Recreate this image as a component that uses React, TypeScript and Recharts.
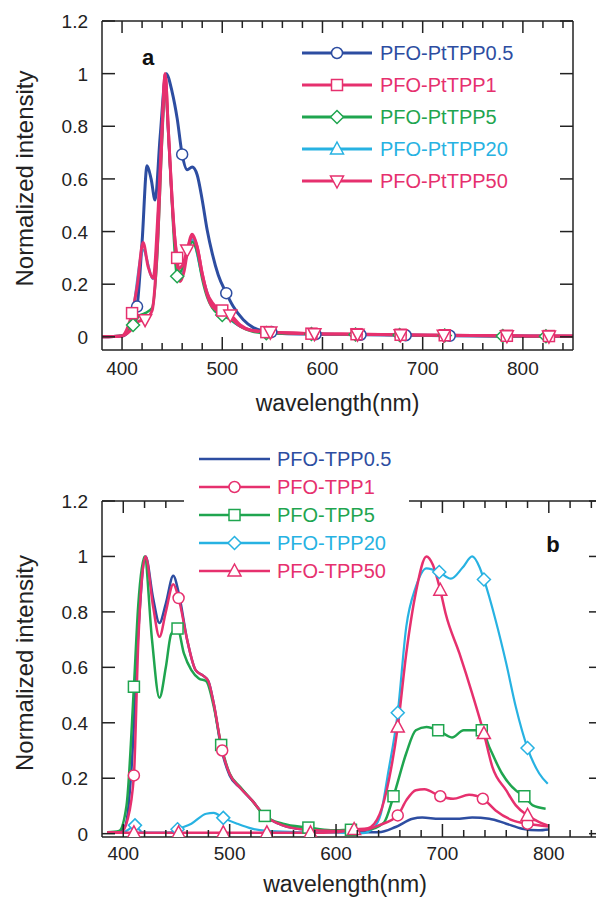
import React from 'react';
import { LineChart, Line, XAxis, YAxis } from 'recharts';

// ---------- panel a : PFO-PtTPP blends ----------
const aPt05Wl = [380, 400, 408, 415, 420, 425, 429, 433, 438, 444, 450, 455, 460, 465, 470, 475, 480, 485, 490, 496, 504, 511, 521, 531, 541, 549, 560, 593, 638, 683, 727, 780, 850];
const aPt05 = [0, 0.003, 0.03, 0.115, 0.36, 0.65, 0.6, 0.52, 0.76, 1.0, 0.93, 0.83, 0.693, 0.635, 0.645, 0.615, 0.52, 0.405, 0.317, 0.235, 0.166, 0.115, 0.065, 0.035, 0.022, 0.018, 0.013, 0.01, 0.008, 0.006, 0.004, 0.002, 0.001];
const aPt05Marks = [415, 460, 504, 549, 593, 638, 683, 727];

const aPt1Wl = [380, 400, 405, 410, 415, 421, 426, 431, 436, 440, 443, 446, 449, 452, 455, 458, 462, 466, 470, 475, 480, 485, 490, 495, 500, 508, 518, 528, 544, 589, 634, 678, 722, 784, 826, 850];
const aPt1 = [0, 0.003, 0.03, 0.09, 0.19, 0.358, 0.267, 0.223, 0.48, 0.8, 1.0, 0.8, 0.58, 0.4, 0.3, 0.21, 0.25, 0.343, 0.39, 0.343, 0.24, 0.166, 0.13, 0.11, 0.1, 0.075, 0.04, 0.025, 0.018, 0.012, 0.01, 0.008, 0.006, 0.004, 0.003, 0.003];
const aPt1Marks = [410, 455, 500, 544, 589, 634, 678, 722, 784, 826];

const aPt5Wl = [380, 400, 405, 411, 417, 423, 430, 435, 440, 443, 447, 451, 455, 460, 465, 470, 475, 480, 485, 490, 495, 500, 510, 520, 530, 544, 589, 633, 677, 722, 780, 823, 850];
const aPt5 = [0, 0.005, 0.02, 0.045, 0.08, 0.09, 0.11, 0.3, 0.75, 0.95, 0.72, 0.42, 0.23, 0.26, 0.32, 0.36, 0.32, 0.22, 0.15, 0.11, 0.09, 0.083, 0.06, 0.035, 0.02, 0.014, 0.011, 0.009, 0.007, 0.005, 0.003, 0.002, 0.002];
const aPt5Marks = [411, 455, 500, 544, 589, 633, 677, 722, 780, 823];

// PtTPP20 is hidden under the pink curves in the figure
const aPt20Wl = [380, 400, 410, 421, 431, 440, 443, 446, 452, 458, 466, 470, 480, 490, 500, 518, 544, 600, 700, 850];
const aPt20 = [0, 0.003, 0.08, 0.33, 0.22, 0.78, 0.98, 0.78, 0.4, 0.22, 0.33, 0.37, 0.23, 0.12, 0.09, 0.04, 0.017, 0.011, 0.007, 0.003];

const aPt50Wl = [380, 400, 410, 417, 423, 430, 436, 440, 443, 446, 450, 453, 456, 460, 465, 470, 475, 480, 485, 490, 500, 508, 518, 528, 548, 592, 635, 678, 721, 784, 826, 850];
const aPt50 = [0, 0.003, 0.03, 0.06, 0.065, 0.1, 0.4, 0.78, 1.0, 0.8, 0.52, 0.36, 0.26, 0.27, 0.33, 0.38, 0.34, 0.24, 0.16, 0.115, 0.092, 0.083, 0.045, 0.026, 0.018, 0.012, 0.01, 0.008, 0.006, 0.004, 0.003, 0.003];
const aPt50Marks = [423, 465, 508, 548, 592, 635, 678, 721, 784, 826];

// ---------- panel b : PFO-TPP blends ----------
const bT05Wl = [385, 395, 402, 408, 414, 421, 428, 434, 440, 447, 452, 460, 468, 475, 480, 485, 492, 500, 510, 521, 533, 550, 570, 600, 625, 640, 656, 672, 681, 697, 713, 728, 744, 760, 775, 790, 800];
const bT05 = [0.005, 0.005, 0.03, 0.25, 0.72, 1.0, 0.85, 0.76, 0.83, 0.93, 0.87, 0.7, 0.59, 0.57, 0.55, 0.47, 0.31, 0.21, 0.165, 0.12, 0.065, 0.03, 0.015, 0.008, 0.005, 0.005, 0.024, 0.054, 0.058, 0.054, 0.054, 0.058, 0.054, 0.036, 0.018, 0.012, 0.015];

const bT1Wl = [385, 398, 404, 410, 414, 421, 428, 434, 440, 447, 452, 460, 468, 475, 480, 485, 493, 500, 510, 521, 533, 550, 570, 600, 625, 640, 658, 666, 675, 683, 698, 710, 725, 738, 750, 766, 780, 800];
const bT1 = [0.005, 0.005, 0.05, 0.21, 0.68, 1.0, 0.82, 0.71, 0.8, 0.9, 0.85, 0.7, 0.59, 0.57, 0.55, 0.47, 0.3, 0.215, 0.165, 0.12, 0.065, 0.03, 0.015, 0.01, 0.012, 0.03, 0.066, 0.12, 0.157, 0.16, 0.135, 0.126, 0.14, 0.126, 0.084, 0.048, 0.036, 0.026];
const bT1Marks = [410, 452, 493, 658, 698, 738, 780];

const bT5Wl = [385, 396, 403, 410, 414, 420, 427, 434, 440, 445, 451, 457, 464, 471, 478, 485, 492, 500, 510, 521, 533, 550, 574, 595, 614, 630, 645, 654, 666, 675, 685, 696, 709, 720, 737, 744, 756, 769, 777, 785, 797];
const bT5 = [0.005, 0.01, 0.1, 0.53, 0.82, 1.0, 0.7, 0.49, 0.6, 0.72, 0.74, 0.65, 0.59, 0.56, 0.55, 0.46, 0.32, 0.217, 0.168, 0.12, 0.064, 0.036, 0.022, 0.012, 0.014, 0.015, 0.04, 0.135, 0.29, 0.373, 0.385, 0.373, 0.347, 0.373, 0.373, 0.313, 0.217, 0.156, 0.135, 0.102, 0.09];
const bT5Marks = [410, 451, 492, 533, 574, 614, 654, 696, 737, 777];

const bT20Wl = [385, 400, 405, 411, 418, 430, 445, 451, 464, 478, 485, 494, 507, 521, 535, 560, 600, 625, 635, 642, 649, 658, 666, 675, 685, 697, 708, 719, 728, 735, 739, 750, 760, 769, 780, 791, 799];
const bT20 = [0.003, 0.005, 0.015, 0.03, 0.005, 0.004, 0.005, 0.016, 0.036, 0.072, 0.075, 0.057, 0.036, 0.018, 0.01, 0.006, 0.004, 0.002, 0.02, 0.07, 0.22, 0.436, 0.746, 0.89, 0.957, 0.944, 0.92, 0.96, 1.0, 0.96, 0.917, 0.77, 0.614, 0.457, 0.309, 0.217, 0.18];
const bT20Marks = [411, 451, 494, 658, 697, 739, 780];

const bT50Wl = [385, 410, 452, 494, 535, 576, 600, 617, 630, 641, 650, 658, 666, 675, 685, 691, 698, 703, 716, 728, 739, 747, 760, 769, 780, 791, 799];
const bT50 = [0.003, 0.003, 0.003, 0.003, 0.003, 0.003, 0.005, 0.015, 0.02, 0.07, 0.2, 0.385, 0.65, 0.87, 1.0, 0.97, 0.878, 0.794, 0.65, 0.505, 0.361, 0.24, 0.156, 0.102, 0.066, 0.042, 0.03];
const bT50Marks = [410, 452, 494, 535, 576, 617, 658, 698, 739, 780];

const xTicks = [400, 420, 440, 460, 480, 500, 520, 540, 560, 580, 600, 620, 640, 660, 680, 700, 720, 740, 760, 780, 800, 820, 840];
const yTicks = [0, 0.2, 0.4, 0.6, 0.8, 1, 1.2];

const BLUE = '#2d4da1';
const PINK = '#e6306e';
const GREEN = '#1fa54f';
const CYAN = '#27b2e2';
const AXIS = '#222';
const FONT = '"Liberation Sans", Arial, Helvetica, sans-serif';

const pts = (wl: number[], v: number[]) => wl.map((w, i) => ({ wl: w, v: v[i] }));

type Shape = 'circle' | 'square' | 'diamond' | 'up' | 'down';

const Marker = ({ shape, x, y, color }: { shape: Shape; x: number; y: number; color: string }) => {
  const common = { fill: '#fff', stroke: color, strokeWidth: 1.5 };
  if (shape === 'circle') return <circle cx={x} cy={y} r={5.5} {...common} />;
  if (shape === 'square') return <rect x={x - 5.5} y={y - 5.5} width={11} height={11} {...common} />;
  if (shape === 'diamond')
    return <polygon points={`${x},${y - 6.5} ${x + 6.5},${y} ${x},${y + 6.5} ${x - 6.5},${y}`} {...common} />;
  if (shape === 'up')
    return <polygon points={`${x},${y - 7} ${x + 6.5},${y + 5} ${x - 6.5},${y + 5}`} {...common} />;
  return <polygon points={`${x},${y + 7} ${x + 6.5},${y - 5} ${x - 6.5},${y - 5}`} {...common} />;
};

const makeDot = (shape: Shape, color: string, marks: number[]) => (p: any) => {
  const { cx, cy, payload, index } = p;
  if (cx == null || cy == null || !marks.includes(payload.wl)) return <g key={index} />;
  return <Marker key={index} shape={shape} x={cx} y={cy} color={color} />;
};

// ticks point inward, labels sit outside
const BottomTick = (p: any) => {
  const { x, y, payload, labelDy } = p;
  const major = payload.value % 100 === 0;
  return (
    <g>
      <line x1={x} x2={x} y1={y} y2={y - (major ? 13 : 7)} stroke={AXIS} strokeWidth={1.5} />
      {major && (
        <text x={x} y={y + labelDy} textAnchor="middle" fontSize={19} fontFamily={FONT} fill={AXIS}>
          {payload.value}
        </text>
      )}
    </g>
  );
};

const TopTick = (p: any) => {
  const { x, y, payload } = p;
  const major = payload.value % 100 === 0;
  return <line x1={x} x2={x} y1={y} y2={y + (major ? 12 : 7)} stroke={AXIS} strokeWidth={1.5} />;
};

const LeftTick = (p: any) => {
  const { x, y, payload } = p;
  return (
    <g>
      <line x1={x} x2={x + 13} y1={y} y2={y} stroke={AXIS} strokeWidth={1.5} />
      <text x={x - 14} y={y + 7} textAnchor="end" fontSize={19} fontFamily={FONT} fill={AXIS}>
        {String(Math.round(payload.value * 10) / 10)}
      </text>
    </g>
  );
};

const RightTick = (p: any) => {
  const { x, y } = p;
  return <line x1={x} x2={x - 13} y1={y} y2={y} stroke={AXIS} strokeWidth={1.5} />;
};

const xTitle = (dx: number, dy: number) => (p: any) => {
  const vb = p.viewBox;
  return (
    <text x={vb.x + vb.width / 2 + dx} y={vb.y + dy} textAnchor="middle" dominantBaseline="central"
      fontSize={23} fontFamily={FONT} fill={AXIS}>
      wavelength(nm)
    </text>
  );
};

const yTitle = (dy: number) => (p: any) => {
  const vb = p.viewBox;
  const cx = 24;
  const cy = vb.y + vb.height / 2 + dy;
  return (
    <text x={cx} y={cy} transform={`rotate(-90 ${cx} ${cy})`} textAnchor="middle" dominantBaseline="central"
      fontSize={24} fontFamily={FONT} fill={AXIS}>
      Normalized intensity
    </text>
  );
};

const axisLine = { stroke: AXIS, strokeWidth: 1.5 };

type Series = { wl: number[]; v: number[]; color: string; width: number; shape?: Shape; marks?: number[]; name: string };

const Panel = ({ series, height, width, margin, bottomH, yMin, labelDy, titleDx, titleDy, yTitleDy }: any) => (
  <LineChart width={width} height={height} margin={margin}>
    <XAxis xAxisId="b" type="number" dataKey="wl" domain={[380, 850]} ticks={xTicks} interval={0}
      allowDataOverflow height={bottomH} tickSize={0} tickMargin={0} tickLine={false} axisLine={axisLine}
      tick={(p: any) => <BottomTick {...p} labelDy={labelDy} />} label={xTitle(titleDx, titleDy)} />
    <XAxis xAxisId="t" orientation="top" type="number" dataKey="wl" domain={[380, 850]} ticks={xTicks} interval={0}
      allowDataOverflow height={1} tickSize={0} tickMargin={0} tickLine={false} axisLine={axisLine}
      tick={(p: any) => <TopTick {...p} />} />
    <YAxis yAxisId="l" type="number" domain={[yMin, 1.2]} ticks={yTicks} interval={0} allowDataOverflow
      width={102} tickSize={0} tickMargin={0} tickLine={false} axisLine={axisLine}
      tick={(p: any) => <LeftTick {...p} />} label={yTitle(yTitleDy)} />
    <YAxis yAxisId="r" orientation="right" type="number" domain={[yMin, 1.2]} ticks={yTicks} interval={0}
      allowDataOverflow width={1} tickSize={0} tickMargin={0} tickLine={false} axisLine={axisLine}
      tick={(p: any) => <RightTick {...p} />} />
    {series.map((s: Series) => (
      <Line key={s.name} name={s.name} data={pts(s.wl, s.v)} dataKey="v" xAxisId="b" yAxisId="l" type="monotone"
        stroke={s.color} strokeWidth={s.width}
        dot={s.shape && s.marks ? makeDot(s.shape, s.color, s.marks) : false}
        activeDot={false} isAnimationActive={false} />
    ))}
  </LineChart>
);

const seriesA: Series[] = [
  { name: 'PFO-PtTPP0.5', wl: aPt05Wl, v: aPt05, color: BLUE, width: 3, shape: 'circle', marks: aPt05Marks },
  { name: 'PFO-PtTPP20', wl: aPt20Wl, v: aPt20, color: CYAN, width: 2.5 },
  { name: 'PFO-PtTPP5', wl: aPt5Wl, v: aPt5, color: GREEN, width: 2.5, shape: 'diamond', marks: aPt5Marks },
  { name: 'PFO-PtTPP1', wl: aPt1Wl, v: aPt1, color: PINK, width: 3, shape: 'square', marks: aPt1Marks },
  { name: 'PFO-PtTPP50', wl: aPt50Wl, v: aPt50, color: PINK, width: 3, shape: 'down', marks: aPt50Marks },
];

const seriesB: Series[] = [
  { name: 'PFO-TPP0.5', wl: bT05Wl, v: bT05, color: BLUE, width: 2.5 },
  { name: 'PFO-TPP20', wl: bT20Wl, v: bT20, color: CYAN, width: 2.2, shape: 'diamond', marks: bT20Marks },
  { name: 'PFO-TPP5', wl: bT5Wl, v: bT5, color: GREEN, width: 2.5, shape: 'square', marks: bT5Marks },
  { name: 'PFO-TPP1', wl: bT1Wl, v: bT1, color: PINK, width: 2.5, shape: 'circle', marks: bT1Marks },
  { name: 'PFO-TPP50', wl: bT50Wl, v: bT50, color: PINK, width: 2.5, shape: 'up', marks: bT50Marks },
];

const legendA: { name: string; color: string; shape: Shape }[] = [
  { name: 'PFO-PtTPP0.5', color: BLUE, shape: 'circle' },
  { name: 'PFO-PtTPP1', color: PINK, shape: 'square' },
  { name: 'PFO-PtTPP5', color: GREEN, shape: 'diamond' },
  { name: 'PFO-PtTPP20', color: CYAN, shape: 'up' },
  { name: 'PFO-PtTPP50', color: PINK, shape: 'down' },
];

const legendB: { name: string; color: string; shape?: Shape }[] = [
  { name: 'PFO-TPP0.5', color: BLUE },
  { name: 'PFO-TPP1', color: PINK, shape: 'circle' },
  { name: 'PFO-TPP5', color: GREEN, shape: 'square' },
  { name: 'PFO-TPP20', color: CYAN, shape: 'diamond' },
  { name: 'PFO-TPP50', color: PINK, shape: 'up' },
];

const LegendRows = ({ items, x0, x1, tx, y0, step, lw }: any) => (
  <g>
    {items.map((it: any, i: number) => {
      const y = y0 + i * step;
      return (
        <g key={it.name}>
          <line x1={x0} x2={x1} y1={y} y2={y} stroke={it.color} strokeWidth={lw} />
          {it.shape && <Marker shape={it.shape} x={(x0 + x1) / 2} y={y} color={it.color} />}
          <text x={tx} y={y + 7} fontSize={20} fontFamily={FONT} fill={it.color}>{it.name}</text>
        </g>
      );
    })}
  </g>
);

export default function App() {
  return (
    <div style={{ position: 'absolute', left: 0, top: 0, width: 596, height: 899, overflow: 'hidden', background: '#fff' }}>
      <div style={{ position: 'absolute', left: 0, top: 0 }}>
        <Panel series={seriesA} width={596} height={420} margin={{ top: 20, right: 22, left: 0, bottom: 0 }}
          bottomH={70} yMin={-0.05} labelDy={25} titleDx={0} titleDy={53} yTitleDy={-7} />
      </div>
      <svg style={{ position: 'absolute', left: 0, top: 0, pointerEvents: 'none' }} width={596} height={420}>
        <LegendRows items={legendA} x0={302} x1={372} tx={380} y0={53} step={32} lw={3} />
        <text x={148} y={65} textAnchor="middle" fontSize={22} fontWeight="bold" fontFamily={FONT} fill="#111">a</text>
      </svg>
      <div style={{ position: 'absolute', left: 0, top: 440 }}>
        <Panel series={seriesB} width={610} height={459} margin={{ top: 60, right: 7, left: 0, bottom: 0 }}
          bottomH={62} yMin={-0.012} labelDy={23} titleDx={-7} titleDy={47} yTitleDy={-6} />
      </div>
      <svg style={{ position: 'absolute', left: 0, top: 440, pointerEvents: 'none' }} width={596} height={459}>
        <rect x={184} y={2} width={225} height={144} fill="#fff" />
        <LegendRows items={legendB} x0={199} x1={270} tx={277} y0={19} step={28} lw={2.5} />
        <text x={553} y={112} textAnchor="middle" fontSize={22} fontWeight="bold" fontFamily={FONT} fill="#111">b</text>
      </svg>
    </div>
  );
}
